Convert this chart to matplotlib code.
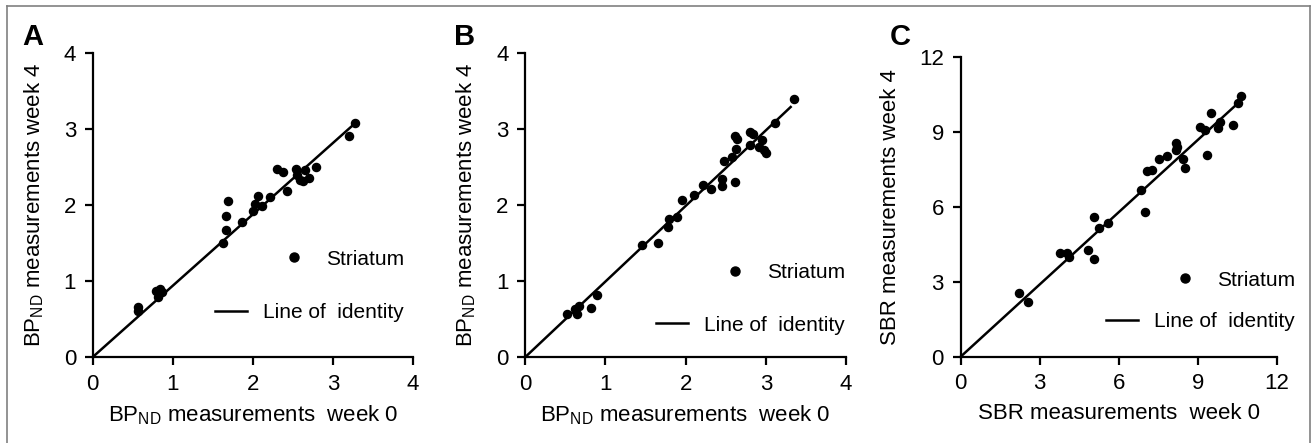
import matplotlib
matplotlib.use('Agg')
import matplotlib.pyplot as plt
import matplotlib.lines as mlines

plt.rcParams['font.family'] = ['Liberation Sans', 'DejaVu Sans']
plt.rcParams['mathtext.fontset'] = 'custom'
plt.rcParams['mathtext.rm'] = 'Liberation Sans'

# Panel A: BPND week 0 vs week 4
a_x = [0.57, 0.57, 0.79, 0.84, 0.82, 0.86, 1.63, 1.67, 1.67, 1.69, 1.87, 2.00, 2.03,
       2.06, 2.11, 2.21, 2.30, 2.38, 2.43, 2.54, 2.55, 2.59, 2.62, 2.65, 2.70, 2.79,
       3.20, 3.28]
a_y = [0.66, 0.61, 0.87, 0.90, 0.79, 0.86, 1.50, 1.67, 1.86, 2.05, 1.78, 1.92, 2.01,
       2.12, 1.99, 2.11, 2.47, 2.44, 2.18, 2.47, 2.39, 2.33, 2.31, 2.46, 2.36, 2.50,
       2.91, 3.08]
a_line = ([0, 3.27], [0, 3.07])

# Panel B: BPND week 0 vs week 4
b_x = [0.52, 0.62, 0.65, 0.67, 0.82, 0.89, 1.46, 1.66, 1.78, 1.79, 1.89, 1.95, 2.10,
       2.22, 2.31, 2.45, 2.45, 2.62, 2.48, 2.58, 2.63, 2.62, 2.64, 2.80, 2.84, 2.80,
       2.95, 2.92, 3.00, 2.98, 3.11, 3.35]
b_y = [0.57, 0.63, 0.57, 0.67, 0.64, 0.82, 1.47, 1.50, 1.71, 1.82, 1.84, 2.07, 2.13,
       2.26, 2.21, 2.34, 2.25, 2.30, 2.58, 2.63, 2.74, 2.91, 2.87, 2.96, 2.93, 2.79,
       2.86, 2.76, 2.68, 2.73, 3.08, 3.39]
b_line = ([0, 3.31], [0, 3.29])

# Panel C: SBR week 0 vs week 4
c_x = [2.21, 2.54, 3.77, 4.02, 4.11, 4.84, 5.06, 5.06, 5.25, 5.58, 6.84, 6.99, 7.06,
       7.27, 7.52, 7.81, 8.17, 8.19, 8.16, 8.45, 8.52, 9.08, 9.27, 9.36, 9.48, 9.77,
       9.84, 10.32, 10.53, 10.62]
c_y = [2.57, 2.20, 4.14, 4.17, 4.01, 4.28, 3.90, 5.61, 5.14, 5.37, 6.68, 5.81, 7.44,
       7.48, 7.91, 8.06, 8.55, 8.39, 8.28, 7.91, 7.55, 9.22, 9.09, 8.08, 9.78, 9.15,
       9.42, 9.29, 10.18, 10.46]
c_line = ([0, 10.49], [0, 10.13])

bp_xlabel = r'BP$_{\mathrm{ND}}$ measurements  week 0'
bp_ylabel = r'BP$_{\mathrm{ND}}$ measurements week 4'
panels = [
    ('A', a_x, a_y, a_line, 4, [0, 1, 2, 3, 4], bp_xlabel, bp_ylabel,
     [0.0707, 0.1941, 0.2441, 0.6862], (0.972, 0.322), (0.972, 0.145)),
    ('B', b_x, b_y, b_line, 4, [0, 1, 2, 3, 4], bp_xlabel, bp_ylabel,
     [0.4004, 0.1941, 0.2444, 0.6862], (0.997, 0.277), (0.997, 0.105)),
    ('C', c_x, c_y, c_line, 12, [0, 3, 6, 9, 12], 'SBR measurements  week 0',
     'SBR measurements week 4', [0.7322, 0.1948, 0.2411, 0.6759], (1.057, 0.256), (1.057, 0.117)),
]

fig = plt.figure(figsize=(13.12, 4.43), dpi=100)

for letter, xs, ys, line, lim, ticks, xlab, ylab, pos, leg1, leg2 in panels:
    ax = fig.add_axes(pos)
    ax.scatter(xs, ys, s=34, color='black', zorder=3, clip_on=False)
    ax.plot(line[0], line[1], color='black', linewidth=1.8, clip_on=False)
    ax.set_xlim(0, lim)
    ax.set_ylim(0, lim)
    ax.set_xticks(ticks)
    ax.set_yticks(ticks)
    for s in ['top', 'right']:
        ax.spines[s].set_visible(False)
    for s in ['left', 'bottom']:
        ax.spines[s].set_linewidth(1.6)
    ax.tick_params(direction='out', length=6, width=1.6, labelsize=16, pad=6)
    ax.set_xlabel(xlab, fontsize=16, labelpad=6)
    ax.set_ylabel(ylab, fontsize=16, labelpad=13)

    h1 = mlines.Line2D([], [], color='black', marker='o', linestyle='None', markersize=6.5)
    h2 = mlines.Line2D([], [], color='black', linewidth=1.8)
    l1 = ax.legend([h1], ['Striatum'], loc='center right', bbox_to_anchor=leg1,
                   frameon=False, fontsize=15, borderpad=0, borderaxespad=0,
                   handlelength=1.5, handletextpad=0.8)
    ax.add_artist(l1)
    ax.legend([h2], ['Line of  identity'], loc='center right', bbox_to_anchor=leg2,
              frameon=False, fontsize=15, borderpad=0, borderaxespad=0,
              handlelength=1.5, handletextpad=0.8)

    fig.text(pos[0] - 0.054, 0.898, letter, fontsize=21, fontweight='bold',
             ha='left', va='baseline')

# grey frame around the figure
W, H = 1312, 443
frame = dict(color='#808080', linewidth=1.2, transform=fig.transFigure)
fig.add_artist(mlines.Line2D([6.5 / W, 6.5 / W], [0, 1 - 5.5 / H], **frame))
fig.add_artist(mlines.Line2D([6.5 / W, 1310 / W], [1 - 5.5 / H, 1 - 5.5 / H], **frame))
fig.add_artist(mlines.Line2D([1310 / W, 1310 / W], [0, 1 - 5.5 / H], **frame))

plt.savefig('out.png', dpi=100)
